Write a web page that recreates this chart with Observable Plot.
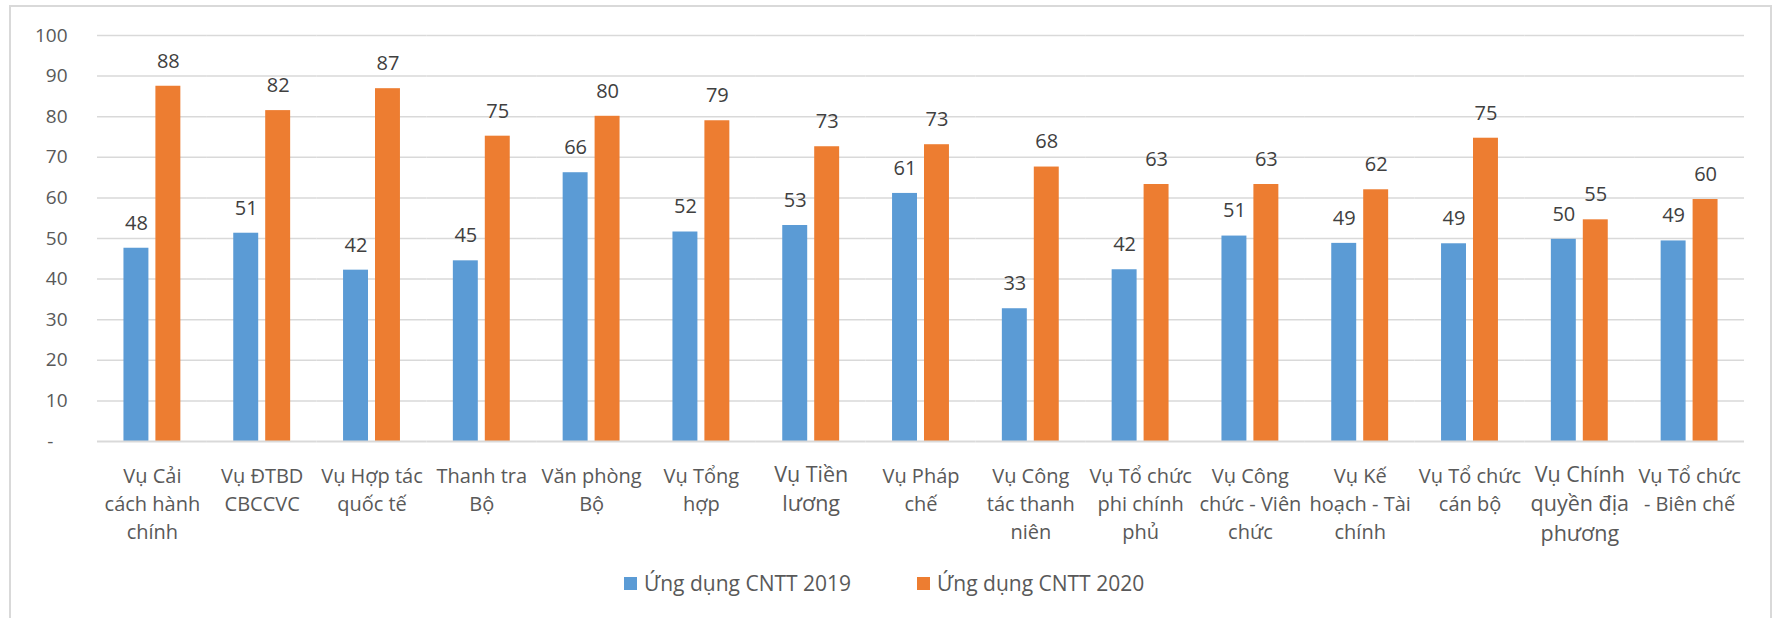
<!DOCTYPE html>
<html>
<head>
<meta charset="utf-8">
<script src="https://cdn.jsdelivr.net/npm/d3@7"></script>
<script src="https://cdn.jsdelivr.net/npm/@observablehq/plot@0.6"></script>
<style>
  html, body { margin: 0; padding: 0; background: #ffffff; }
  body { width: 1779px; height: 618px; position: relative; overflow: hidden; font-family: 'Open Sans', sans-serif; }
  #frame { position: absolute; left: 9px; top: 5px; width: 1763px; height: 700px; border: 2px solid #d9d9d9; box-sizing: border-box; }
  #chart { position: absolute; left: 0; top: 0; }
  #legend { position: absolute; left: 624px; top: 569px; display: flex; align-items: center; font-size: 21px; color: #595959; white-space: nowrap; }
  #legend .item { display: flex; align-items: center; margin-right: 66px; }
  #legend .sw { width: 13px; height: 13px; margin-right: 7px; }
</style>
</head>
<body>
<div id="frame"></div>
<div id="chart"></div>
<div id="legend"></div>
<script>
const categories = [
  "Vụ Cải cách hành chính", "Vụ ĐTBD CBCCVC", "Vụ Hợp tác quốc tế", "Thanh tra Bộ",
  "Văn phòng Bộ", "Vụ Tổng hợp", "Vụ Tiền lương", "Vụ Pháp chế",
  "Vụ Công tác thanh niên", "Vụ Tổ chức phi chính phủ", "Vụ Công chức - Viên chức",
  "Vụ Kế hoạch - Tài chính", "Vụ Tổ chức cán bộ", "Vụ Chính quyền địa phương",
  "Vụ Tổ chức - Biên chế"
];
const tickLabels = [
  "Vụ Cải\ncách hành\nchính", "Vụ ĐTBD\nCBCCVC", "Vụ Hợp tác\nquốc tế", "Thanh tra\nBộ",
  "Văn phòng\nBộ", "Vụ Tổng\nhợp", "Vụ Tiền\nlương", "Vụ Pháp\nchế",
  "Vụ Công\ntác thanh\nniên", "Vụ Tổ chức\nphi chính\nphủ", "Vụ Công\nchức - Viên\nchức",
  "Vụ Kế\nhoạch - Tài\nchính", "Vụ Tổ chức\ncán bộ", "Vụ Chính\nquyền địa\nphương",
  "Vụ Tổ chức\n- Biên chế"
];
const seriesNames = ["Ứng dụng CNTT 2019", "Ứng dụng CNTT 2020"];
const values2019 = [47.6, 51.3, 42.2, 44.5, 66.2, 51.6, 53.2, 61.1, 32.7, 42.3, 50.6, 48.8, 48.7, 49.8, 49.4];
const values2020 = [87.5, 81.5, 86.9, 75.2, 80.1, 79.0, 72.6, 73.1, 67.6, 63.3, 63.3, 62.0, 74.7, 54.6, 59.6];
const yTicks = [0, 10, 20, 30, 40, 50, 60, 70, 80, 90, 100];

const colors = ["#5b9bd5", "#ed7d31"];
const largeLabelCats = new Set(["Vụ Tiền lương", "Vụ Chính quyền địa phương"]);

const data = categories.flatMap((c, i) => [
  {cat: c, series: seriesNames[0], value: values2019[i]},
  {cat: c, series: seriesNames[1], value: values2020[i]}
]);
const labelData = categories.map((c, i) => ({cat: c, label: tickLabels[i]}));

const chart = Plot.plot({
  width: 1779,
  height: 560,
  marginTop: 35,
  marginBottom: 119,
  marginLeft: 97,
  marginRight: 35,
  style: {fontFamily: "'Open Sans', sans-serif", background: "transparent"},
  fx: {domain: categories, padding: 0, axis: null, round: false},
  x: {domain: seriesNames, paddingInner: 0.219, paddingOuter: 0.828, round: false, axis: null},
  y: {domain: [0, 100], axis: null},
  color: {domain: seriesNames, range: colors},
  marks: [
    Plot.gridY(yTicks.filter(d => d > 0), {stroke: "#d9d9d9", strokeOpacity: 1, strokeWidth: 1.5}),
    Plot.barY(data, {fx: "cat", x: "series", y: "value", fill: "series"}),
    Plot.ruleY([0], {stroke: "#d9d9d9", strokeOpacity: 1, strokeWidth: 2}),
    Plot.axisY({ticks: yTicks, tickSize: 0, tickPadding: 30, fontSize: 19, color: "#595959", label: null,
      tickFormat: d => d === 0 ? "-\u2007\u2009" : String(d)}),
    Plot.text(data, {fx: "cat", x: "series", y: "value", text: d => String(Math.round(d.value)),
      dy: -25, fontSize: 20, fill: "#404040"}),
    Plot.text(labelData.filter(d => !largeLabelCats.has(d.cat)), {fx: "cat", text: "label",
      frameAnchor: "bottom", lineAnchor: "top", dy: 22, fontSize: 20, lineHeight: 1.4, fill: "#595959"}),
    Plot.text(labelData.filter(d => largeLabelCats.has(d.cat)), {fx: "cat", text: "label",
      frameAnchor: "bottom", lineAnchor: "top", dy: 19, fontSize: 21.5, lineHeight: 1.38, fill: "#595959"})
  ]
});
document.getElementById("chart").appendChild(chart);

const legend = document.getElementById("legend");
seriesNames.forEach((name, i) => {
  const item = document.createElement("div");
  item.className = "item";
  const sw = document.createElement("span");
  sw.className = "sw";
  sw.style.background = colors[i];
  const t = document.createElement("span");
  t.textContent = name;
  item.appendChild(sw);
  item.appendChild(t);
  legend.appendChild(item);
});
</script>
</body>
</html>
